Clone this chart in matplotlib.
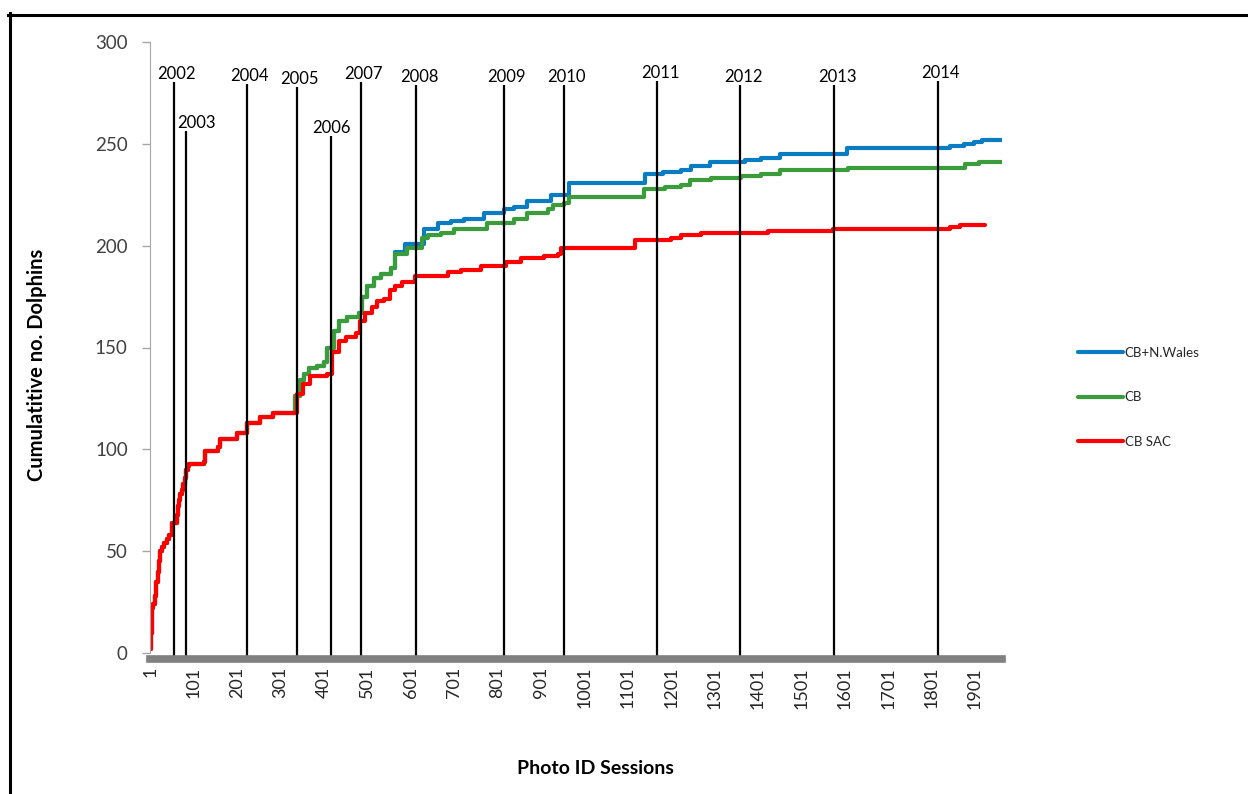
import numpy as np
import matplotlib
matplotlib.use("Agg")
import matplotlib.pyplot as plt
from matplotlib.lines import Line2D

plt.rcParams['font.family'] = ['Lato', 'DejaVu Sans']

# Cumulative counts (session number, cumulative no. dolphins)
# shared early part (all three series identical)
early_sessions = [1, 3, 5, 8, 12, 15, 18, 21, 24, 28, 32, 39, 45, 51, 52,
                  60, 62, 64, 67, 70, 74, 77, 81, 84, 88, 91, 124, 128,
                  158, 162, 201, 224, 255, 285]
early_counts = [2, 10, 22, 24, 28, 35, 40, 45, 50, 52, 54, 56, 58, 60, 64,
                64, 68, 72, 75, 78, 80, 83, 86, 90, 92, 93, 94, 99,
                101, 105, 108, 113, 116, 118]

# CB SAC
sac_sessions = [339, 354, 370, 409, 420, 435, 451, 474, 485, 497, 512, 524,
                539, 554, 566, 581, 612, 686, 716, 762, 820, 855, 909, 940,
                947, 1117, 1201, 1224, 1270, 1425, 1575, 1844, 1867, 1924]
sac_counts = [127, 132, 136, 137, 148, 153, 155, 157, 163, 167, 170, 173,
              174, 178, 180, 182, 185, 187, 188, 190, 192, 194, 195, 196,
              199, 203, 204, 205, 206, 207, 208, 209, 210, 210]

# CB (shared with CB+N.Wales until ~session 566)
cb_mid_sessions = [335, 347, 355, 366, 385, 401, 409, 424, 435, 455, 482,
                   489, 501, 516, 532, 555]
cb_mid_counts = [126, 134, 137, 140, 141, 143, 150, 158, 163, 165, 167,
                 175, 180, 184, 186, 189]
cb_sessions = [566, 593, 628, 640, 670, 701, 778, 840, 870, 917, 928, 955,
               967, 1139, 1186, 1224, 1244, 1293, 1363, 1409, 1451, 1609,
               1879, 1910, 1963]
cb_counts = [196, 199, 204, 205, 206, 208, 211, 213, 216, 218, 220, 221,
             224, 228, 229, 230, 232, 233, 234, 235, 237, 238, 240, 241, 241]

# CB+N.Wales
nw_sessions = [566, 589, 632, 663, 693, 724, 770, 816, 840, 870, 924, 967,
               1140, 1182, 1224, 1247, 1290, 1371, 1409, 1451, 1606, 1844,
               1875, 1898, 1917, 1963]
nw_counts = [197, 201, 208, 211, 212, 213, 216, 218, 219, 222, 225, 231,
             235, 236, 237, 239, 241, 242, 243, 245, 248, 249, 250, 251,
             252, 252]

years = ['2002', '2003', '2004', '2005', '2006', '2007', '2008', '2009',
         '2010', '2011', '2012', '2013', '2014']
year_sessions = [56, 83, 224, 339, 418, 487, 614, 816, 954, 1169, 1361,
                 1577, 1815]
year_tops = [280.5, 256.5, 279.5, 278, 254, 280.5, 279, 279, 279, 281, 279,
             279, 281]

x_ticks = list(range(1, 1902, 100))

series = [
    ('CB+N.Wales', early_sessions + cb_mid_sessions + nw_sessions,
     early_counts + cb_mid_counts + nw_counts, '#0a7dc2'),
    ('CB', early_sessions + cb_mid_sessions + cb_sessions,
     early_counts + cb_mid_counts + cb_counts, '#3a9c3a'),
    ('CB SAC', early_sessions + sac_sessions,
     early_counts + sac_counts, '#ff0000'),
]

fig = plt.figure(figsize=(12.48, 7.94), dpi=100)
ax = fig.add_axes([150 / 1248, 1 - 653 / 794, 852 / 1248, 611 / 794])

handles = []
for name, xs, ys, col in series:
    h, = ax.step(xs, ys, where='post', color=col, lw=3, label=name,
                 solid_capstyle='round', zorder=2)
    handles.append(h)

# year marker lines
ax.vlines(year_sessions, -4, year_tops, color='black', lw=1.6, zorder=3,
          clip_on=False)
nudge = {'2003': 6, '2006': -2}
for yr, s, top in zip(years, year_sessions, year_tops):
    ax.annotate(yr, (s, top), xytext=(2 + nudge.get(yr, 0), 0),
                textcoords='offset points', ha='center', va='bottom',
                fontsize=12, color='black')

ax.set_xlim(0.5, 1963.5)
ax.set_ylim(0, 300)
ax.set_yticks(range(0, 301, 50))
ax.set_xticks(x_ticks)
ax.set_xticklabels([str(t) for t in x_ticks])

for sp in ['top', 'right']:
    ax.spines[sp].set_visible(False)
ax.spines['left'].set_color('#a6a6a6')
ax.spines['bottom'].set_color('#808080')
ax.spines['bottom'].set_linewidth(5.5)
ax.spines['bottom'].set_position(('outward', 4))
ax.spines['bottom'].set_zorder(4)

ax.tick_params(axis='y', colors='#a6a6a6', labelcolor='#404040',
               labelsize=13.5, length=6, width=1, pad=10)
ax.tick_params(axis='x', length=0, labelsize=13, labelcolor='#262626',
               pad=6, labelrotation=90)

fig.text(37 / 1248, 1 - 365 / 794, 'Cumulatitive no. Dolphins', rotation=90,
         ha='center', va='center', fontsize=14.5, fontweight='bold')
fig.text(595 / 1248, 1 - 769 / 794, 'Photo ID Sessions', ha='center',
         va='center', fontsize=14, fontweight='bold')

fig.legend(handles=handles, loc='upper left',
           bbox_to_anchor=(1078 / 1248, 1 - 347 / 794), frameon=False,
           fontsize=9.5, handlelength=3.4, handletextpad=0.15,
           labelspacing=2.45, borderpad=0, borderaxespad=0,
           labelcolor='#262626')

# outer frame (top and left edges visible)
fig.add_artist(Line2D([8 / 1248, 1], [1 - 14.5 / 794, 1 - 14.5 / 794],
                      color='black', lw=2.2, transform=fig.transFigure))
fig.add_artist(Line2D([9.5 / 1248, 9.5 / 1248], [1 - 13 / 794, 0],
                      color='black', lw=2.2, transform=fig.transFigure))

fig.savefig('out.png', dpi=100)
